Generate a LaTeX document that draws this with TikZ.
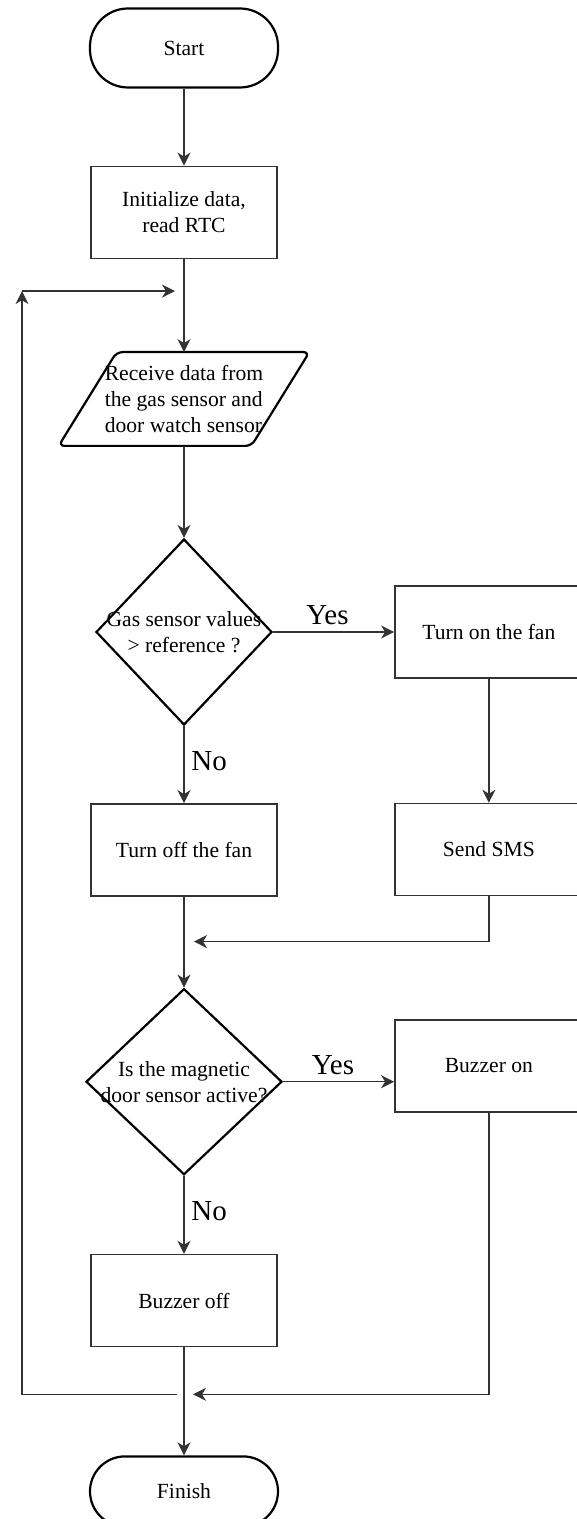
\documentclass[tikz,border=0pt]{standalone}
\usepackage{fontspec}
\setmainfont{Liberation Serif}
\usetikzlibrary{arrows.meta,positioning,shapes.geometric}

\newcommand{\zw}[1]{\makebox[0pt]{#1}}

\begin{document}
\begin{tikzpicture}[
    font=\fontsize{10.8pt}{13pt}\selectfont,
    term/.style={draw, line width=1.1pt, rounded corners=19pt,
      minimum width=94pt, minimum height=39.5pt},
    box/.style={draw=black!80, line width=0.75pt, align=center,
      minimum width=93pt, minimum height=46pt},
    decision/.style={draw, diamond, line width=1.1pt, align=center,
      inner sep=0pt, minimum width=88pt, minimum height=93pt},
    arr/.style={-{Stealth[length=6.5pt,width=6.5pt,inset=2pt]}, draw=black!80,
      line width=0.75pt},
    yn/.style={font=\fontsize{14.5pt}{17pt}\selectfont},
  ]
    \useasboundingbox (-92pt,24pt) rectangle (196.5pt,-735.5pt);

    \node[term] (start) at (0,0) {Start};
    \node[box, below=38.5pt of start] (init) {Initialize data,\\read RTC};
    \node[align=left, inner sep=0pt, minimum width=96pt, minimum height=46.5pt,
      below=46.5pt of init] (recv)
      {Receive data from\\the gas sensor and\\door watch sensor};
    \draw[line width=1.1pt, rounded corners=3pt]
      ([xshift=14.5pt]recv.north west) -- ([xshift=14.5pt]recv.north east)
      -- ([xshift=-14.5pt]recv.south east) -- ([xshift=-14.5pt]recv.south west)
      -- cycle;

    \node[decision, below=46pt of recv] (gas)
      {\zw{Gas sensor values}\\\zw{> reference ?}};
    \node[box, minimum width=94pt, right=60.5pt of gas] (fanon) {Turn on the fan};
    \node[box, minimum width=94pt, below=62pt of fanon] (sms) {Send SMS};
    \node[box, below=38.5pt of gas] (fanoff) {Turn off the fan};

    \node[decision, minimum width=98pt, below=45.5pt of fanoff] (door)
      {\zw{Is the magnetic}\\\zw{door sensor active?}};
    \node[box, minimum width=94pt, below=61.5pt of sms] (buzon) {Buzzer on};
    \node[box, below=39pt of door] (buzoff) {Buzzer off};
    \node[term, rounded corners=17.5pt, minimum height=35pt,
      below=54pt of buzoff] (finish) {Finish};

    % junctions of the return lines
    \coordinate[below=16pt of init] (j0);
    \coordinate[below=22.5pt of fanoff] (j1);
    \coordinate[below=23.5pt of buzoff] (j2);
    \coordinate (ltop) at ([xshift=-81pt]j0);

    \draw[arr] (start) -- (init);
    \draw[arr] (init) -- (recv);
    \draw[arr] (recv) -- (gas);
    \draw[arr] (gas) -- node[yn, above, pos=0.45] (yes1) {Yes} (fanon);
    \draw[arr] (fanon) -- (sms);
    \draw[arr] (gas) -- node[yn, right, pos=0.45] (no1) {No} (fanoff);
    \draw[arr] (fanoff) -- (door);
    \draw[arr] (sms) |- ([xshift=5pt]j1);
    \draw[arr] (door) -- node[yn, above, pos=0.45] (yes2) {Yes} (door -| buzon.west);
    \draw[arr] (door) -- node[yn, right, pos=0.45] (no2) {No} (buzoff);
    \draw[arr] (buzoff) -- (finish);
    \draw[arr] (buzon) |- ([xshift=4.5pt]j2);
    \draw[arr] ([xshift=-3.5pt]j2) -| (ltop);
    \draw[arr] (ltop) -- ([xshift=-4.5pt]j0);
  \end{tikzpicture}
\end{document}
